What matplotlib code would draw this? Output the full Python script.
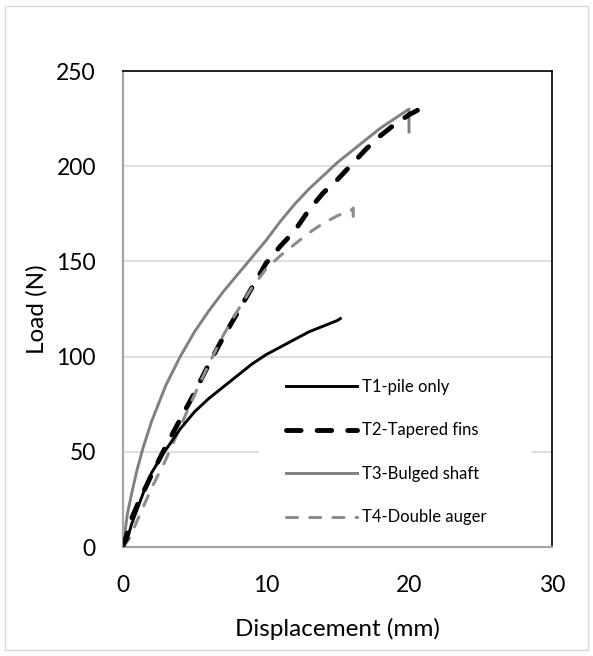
import matplotlib
matplotlib.use('Agg')
import matplotlib.pyplot as plt
from matplotlib.patches import Rectangle

# load-displacement curves
t1_x = [0, 0.3, 0.6, 1, 1.5, 2, 2.9, 4, 5, 6, 7, 8, 9, 10, 11, 12, 13, 14, 15, 15.2]
t1_y = [0, 4, 12, 20, 30, 39, 50, 62, 71, 78, 84, 90, 96, 101, 105, 109, 113, 116, 119, 120]

t2_x = [0, 0.6, 1, 2, 3, 4, 5, 6, 7, 8, 9, 10, 11, 12, 13, 14, 15, 16, 17, 18, 19, 20, 21, 21]
t2_y = [0, 15, 22, 38, 53, 67, 81, 96, 110, 123, 136, 149, 158, 166, 177, 186, 193, 201, 209, 216, 222, 227, 231, 227]

t3_x = [0, 0.3, 0.6, 1, 1.4, 2, 3, 4, 5, 6, 7, 8, 9, 10, 11, 12, 13, 14, 15, 16, 17, 18, 19, 20, 20]
t3_y = [0, 17, 28, 41, 52, 66, 85, 100, 113, 124, 134, 143, 152, 161, 171, 180, 188, 195, 202, 208, 214, 220, 225, 230, 218]

t4_x = [0, 0.5, 1, 2, 3, 4, 5, 6, 7, 8, 9, 10, 11, 12, 13, 14, 15, 16, 16.1, 16.1]
t4_y = [0, 5, 14, 31, 46, 63, 80, 96, 111, 124, 136, 146, 153, 159, 165, 170, 174, 177, 178, 170]

labels = ['T1-pile only', 'T2-Tapered fins', 'T3-Bulged shaft', 'T4-Double auger']
x_ticks = [0, 10, 20, 30]
y_ticks = [0, 50, 100, 150, 200, 250]

plt.rcParams['font.family'] = ['Lato', 'DejaVu Sans']

fig = plt.figure(figsize=(5.93, 6.56), dpi=100)
ax = fig.add_axes([123 / 593, 1 - 547 / 656, (552 - 123) / 593, (547 - 71) / 656])

# outer chart border
fig.patches.append(Rectangle((5 / 593, 6 / 656), 583 / 593, 644 / 656, transform=fig.transFigure,
                             fill=False, edgecolor='#d9d9d9', linewidth=1.0))

ax.plot(t1_x, t1_y, color='black', lw=2.1, label=labels[0], zorder=4)
ax.plot(t2_x, t2_y, color='black', lw=3.5, dashes=(3.0, 3.3), dash_capstyle='round',
        label=labels[1], zorder=3)
ax.plot(t3_x, t3_y, color='#808080', lw=2.1, label=labels[2], zorder=2)
ax.plot(t4_x, t4_y, color='#8c8c8c', lw=2.2, dashes=(3.6, 4.0), dash_capstyle='round',
        label=labels[3], zorder=3)

ax.set_xlim(0, 30)
ax.set_ylim(0, 250)
ax.set_xticks(x_ticks)
ax.set_yticks(y_ticks)
ax.tick_params(length=0, labelsize=16.5)
ax.tick_params(axis='x', pad=20)
ax.tick_params(axis='y', pad=19.5)
ax.yaxis.grid(True, color='#d9d9d9', lw=1.2)
ax.set_axisbelow(True)

for s in ['top', 'right']:
    ax.spines[s].set_color('black')
    ax.spines[s].set_linewidth(1.2)
for s in ['left', 'bottom']:
    ax.spines[s].set_color('#a6a6a6')
    ax.spines[s].set_linewidth(1.6)

ax.set_xlabel('Displacement (mm)', fontsize=17.5, labelpad=16)
ax.set_ylabel('Load (N)', fontsize=17.5, labelpad=6.5)

# white legend area hiding the gridline behind it
ax.add_patch(Rectangle((0.317, 0.015), 0.636, 0.378, transform=ax.transAxes,
                       facecolor='white', edgecolor='none', zorder=1))

ax.legend(loc='upper left', bbox_to_anchor=(0.380, 0.353), borderaxespad=0,
          fontsize=12, handlelength=4.25, handletextpad=0.3, labelspacing=1.65,
          frameon=False, borderpad=0)

fig.savefig('out.png', dpi=100)
